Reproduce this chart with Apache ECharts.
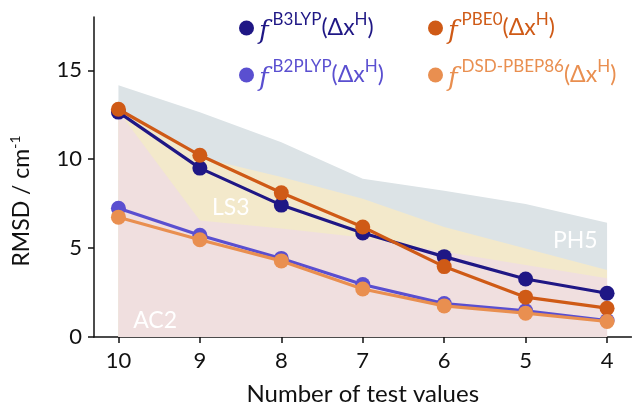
<!DOCTYPE html>
<html>
<head>
<meta charset="utf-8">
<script src="https://cdn.jsdelivr.net/npm/echarts@6/dist/echarts.min.js"></script>
<style>
  html, body { margin: 0; padding: 0; background: #ffffff; }
  #chart { width: 632px; height: 411px; }
</style>
</head>
<body>
<div id="chart"></div>
<script>
// Number of test values (x positions)
const testValues = [10, 9, 8, 7, 6, 5, 4];
const xTicks = [4, 5, 6, 7, 8, 9, 10];
const yTicks = [0, 5, 10, 15];

// RMSD per method (cm^-1)
const b3lyp  = [12.65, 9.50, 7.42, 5.85, 4.52, 3.26, 2.46];
const pbe0   = [12.81, 10.22, 8.11, 6.19, 3.96, 2.24, 1.62];
const b2plyp = [7.24, 5.72, 4.42, 2.95, 1.88, 1.47, 0.93];
const dsd    = [6.74, 5.47, 4.28, 2.70, 1.75, 1.34, 0.87];

// Reference band upper bounds
const ph5 = [14.16, 12.64, 10.95, 8.90, 8.22, 7.48, 6.43];
const ls3 = [12.70, 10.10, 9.00, 7.78, 6.19, 4.98, 3.77];
const ac2 = [12.70, 6.56, 6.10, 5.60, 4.80, 4.05, 3.30];

// Legend labels: functional superscript for f(Δx^H)
const methodNames = ['B3LYP', 'B2PLYP', 'PBE0', 'DSD-PBEP86'];
const methodColors = ['#1f1785', '#5a4fd0', '#cf5a16', '#e98f50'];
const methodData = [b3lyp, b2plyp, pbe0, dsd];

const bandNames = ['PH5', 'LS3', 'AC2'];
const bandColors = ['#dce3e6', '#f3e9cb', '#f0dfdf'];
const bandData = [ph5, ls3, ac2];
const bandLabelAt = [[4.39, 5.45], [8.62, 7.30], [9.55, 0.95]];

const pair = (vals) => testValues.map((x, i) => [x, vals[i]]);

const mainFont = 'Lato, "Open Sans", sans-serif';

const rich = {};
methodNames.forEach((m, i) => {
  const c = methodColors[i];
  rich['f' + i] = { fontFamily: '"DejaVu Serif", serif', fontStyle: 'italic', fontSize: 26, color: c, lineHeight: 34, verticalAlign: 'bottom', padding: [0, 4, 0, 0] };
  rich['s' + i] = { fontFamily: mainFont, fontSize: 17, color: c, lineHeight: 22, verticalAlign: 'top' };
  rich['n' + i] = { fontFamily: mainFont, fontSize: 23, color: c, lineHeight: 32, verticalAlign: 'middle' };
});
const legendText = (name) => {
  const i = methodNames.indexOf(name);
  return `{f${i}|f}{s${i}|${name}}{n${i}|(Δx}{s${i}|H}{n${i}|)}`;
};

const legendBase = {
  orient: 'vertical',
  icon: 'circle',
  itemWidth: 15,
  itemHeight: 15,
  itemGap: 13,
  top: 6,
  itemStyle: { borderWidth: 0 },
  formatter: legendText,
  textStyle: { rich: rich },
  selectedMode: false
};

const series = [];
bandNames.forEach((b, i) => {
  series.push({
    name: b,
    type: 'line',
    data: pair(bandData[i]),
    showSymbol: false,
    symbol: 'none',
    lineStyle: { width: 0 },
    areaStyle: { color: bandColors[i], opacity: 1 },
    itemStyle: { color: bandColors[i] },
    z: 1,
    silent: true,
    markPoint: {
      symbol: 'circle',
      symbolSize: 0,
      silent: true,
      label: {
        show: true,
        position: 'inside',
        formatter: '{b}',
        color: '#ffffff',
        fontFamily: mainFont,
        fontSize: 23,
        fontWeight: 'normal'
      },
      data: [{ name: b, coord: bandLabelAt[i] }]
    }
  });
});
methodNames.forEach((m, i) => {
  series.push({
    name: m,
    type: 'line',
    data: pair(methodData[i]),
    symbol: 'circle',
    symbolSize: 15,
    lineStyle: { width: 3.2, color: methodColors[i] },
    itemStyle: { color: methodColors[i] },
    z: 3 + i
  });
});

const chart = echarts.init(document.getElementById('chart'), null, { renderer: 'canvas' });
chart.setOption({
  animation: false,
  backgroundColor: '#ffffff',
  grid: { left: 92.5, right: 0.5, top: 17, bottom: 72 },
  legend: [
    Object.assign({}, legendBase, { left: 234, data: ['B3LYP', 'B2PLYP'] }),
    Object.assign({}, legendBase, { left: 423, data: ['PBE0', 'DSD-PBEP86'] })
  ],
  xAxis: {
    type: 'value',
    min: 3.7,
    max: 10.3,
    inverse: true,
    name: 'Number of test values',
    nameLocation: 'middle',
    nameGap: 45,
    nameTextStyle: { fontFamily: mainFont, fontSize: 24, color: '#111111' },
    axisLine: { lineStyle: { color: '#111111', width: 1.5 } },
    axisTick: { show: true, length: 6, customValues: xTicks, lineStyle: { color: '#111111', width: 1.5 } },
    axisLabel: { customValues: xTicks, fontFamily: mainFont, fontSize: 22, color: '#111111', margin: 13 },
    splitLine: { show: false }
  },
  yAxis: {
    type: 'value',
    min: 0,
    max: 18,
    name: '{a|RMSD / cm}{s|-1}',
    nameLocation: 'middle',
    nameGap: 58,
    nameRotate: 90,
    nameTextStyle: {
      padding: [0, 48, 0, 0],
      rich: {
        a: { fontFamily: mainFont, fontSize: 23, color: '#111111', lineHeight: 28, verticalAlign: 'middle' },
        s: { fontFamily: mainFont, fontSize: 14, color: '#111111', lineHeight: 20, verticalAlign: 'top' }
      }
    },
    axisLine: { show: true, lineStyle: { color: '#111111', width: 1.5 } },
    axisTick: { show: true, length: 6, customValues: yTicks, lineStyle: { color: '#111111', width: 1.5 } },
    axisLabel: { customValues: yTicks, fontFamily: mainFont, fontSize: 22, color: '#111111', margin: 12 },
    splitLine: { show: false }
  },
  series: series
});
</script>
</body>
</html>
